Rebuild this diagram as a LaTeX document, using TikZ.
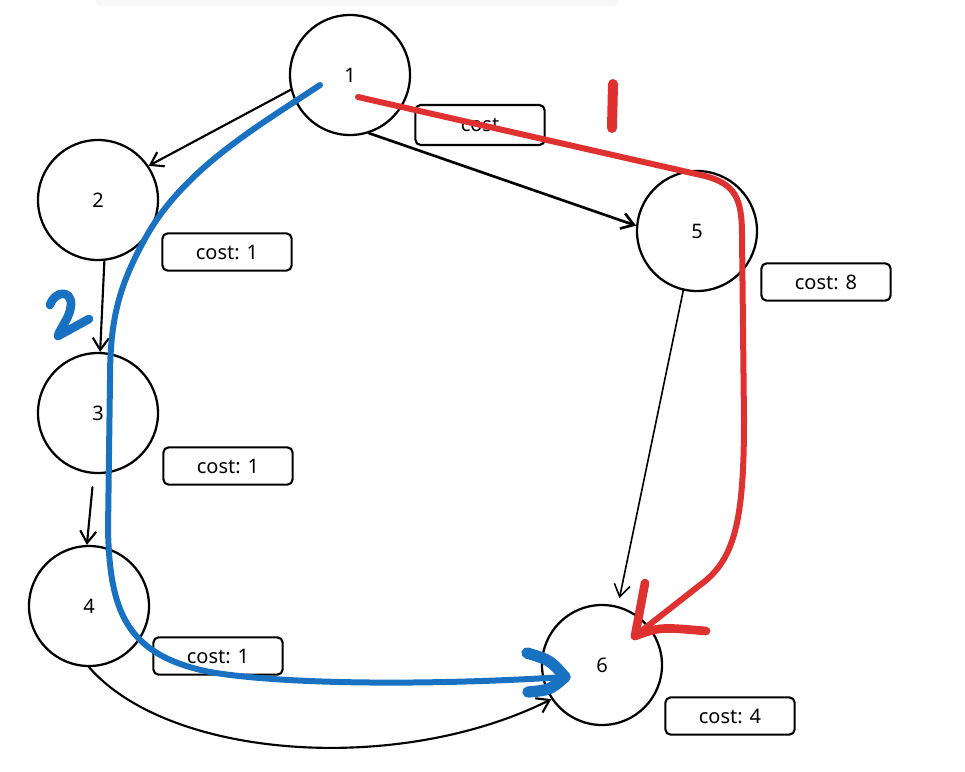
\documentclass[tikz,border=0pt]{standalone}
\usepackage{fontspec}
\setmainfont{Noto Sans}
\usetikzlibrary{arrows.meta, calc, positioning}
\definecolor{pathred}{HTML}{E03131}
\definecolor{pathblue}{HTML}{1971C2}

\begin{document}
\begin{tikzpicture}[line cap=round,line join=round,>={Straight Barb[length=9pt,width=12pt]},x=0.75pt,y=-0.75pt,
  vertex/.style={draw,circle,line width=1.7pt,minimum size=90pt,inner sep=0pt,font=\fontsize{15}{18}\selectfont},
  costbox/.style={draw,rounded corners=4pt,line width=1.6pt,minimum width=97pt,minimum height=28pt,inner sep=0pt,font=\fontsize{15}{18}\selectfont},
  edge/.style={->,line width=1.6pt},
  redpath/.style={line width=4.5pt,color=pathred},
  bluepath/.style={line width=4.5pt,color=pathblue}]
\useasboundingbox (0,0) rectangle (965,772);
\fill [black!3, rounded corners=6pt] (95,-10) rectangle (620,6);

% Vertices
\node [vertex] (n1) at (350,75) {1};
\node [vertex] (n2) at (98,200) {2};
\node [vertex] (n3) at (98,413) {3};
\node [vertex] (n4) at (89,606) {4};
\node [vertex] (n5) at (697,231) {5};
\node [vertex] (n6) at (602,665) {6};

% Cost labels
\node [costbox, minimum height=30pt] (c1) at (480,125) {cost};
\node [costbox] (c2) at (227,252) {cost: 1};
\node [costbox] (c5) at (826,282) {cost: 8};
\node [costbox] (c3) at (228,466) {cost: 1};
\node [costbox] (c4) at (218,656) {cost: 1};
\node [costbox] (c6) at (730,716) {cost: 4};

% Edges
\draw [edge] (n1.194) -- (n2.34);
\draw [edge, line width=2pt] (n1.-72) -- (n5.175);
\draw [edge] (n2.-84) -- (n3.88);
\draw [edge, shorten <=10pt] (n3.-94) -- (n4.92);
\draw [edge, line width=1.2pt, shorten >=6pt] (n5.-103) -- (n6.75);
\draw [edge] (n4.-90) .. controls (170,760) and (400,775) .. (n6.-146);

% Path 1 (red)
\coordinate (redstart) at (358,97);
\coordinate (redtip) at (635,636);
\draw [redpath] (redstart) -- (705,176) .. controls (735,184) and (742,198) .. (742,235)
  -- (744,420) .. controls (744,520) and (735,560) .. (700,585) -- (redtip);
\draw [redpath, line width=6.5pt] (redtip) .. controls (640,610) .. (645,583);
\draw [redpath, line width=6.5pt] (redtip) .. controls (660,627) .. (706,631);
\draw [redpath, line width=7.5pt] (613,84) -- (612,128);

% Path 2 (blue)
\coordinate (bluestart) at (320,85);
\coordinate (bluetip) at (565,677);
\draw [bluepath] (bluestart) .. controls (260,125) and (190,165) .. (150,230)
  .. controls (118,285) and (110,320) .. (110,380) -- (108,530)
  .. controls (110,610) and (125,655) .. (210,672)
  .. controls (280,684) and (420,686) .. (bluetip);
\draw [bluepath, line width=8.5pt] (bluetip) .. controls (550,660) .. (527,653);
\draw [bluepath, line width=8.5pt] (bluetip) .. controls (550,690) .. (528,692);
\draw [bluepath, line width=6.5pt] (50,305) .. controls (55,290) and (72,290) .. (71,305)
  .. controls (70,318) and (60,328) .. (58,336) -- (89,319);
\end{tikzpicture}
\end{document}
